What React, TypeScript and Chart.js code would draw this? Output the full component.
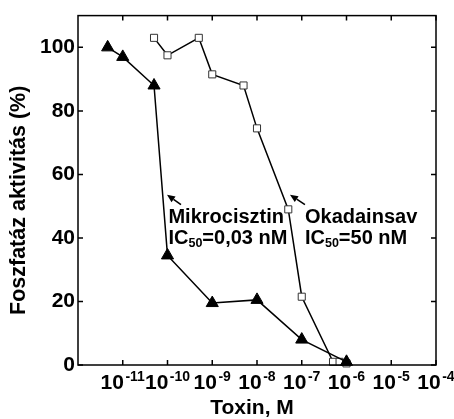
import React, { useEffect, useRef } from "react";
import { Chart, registerables } from "chart.js";

Chart.register(...registerables);

// Mikrocisztin (filled triangles)
const mikroX = [4.6e-12, 1e-11, 5e-11, 1e-10, 1e-9, 1e-8, 1e-7, 1e-6];
const mikroY = [100, 97, 88, 34.5, 19.5, 20.5, 8, 1];

// Okadainsav (open squares)
const okadaX = [5e-11, 1e-10, 5e-10, 1e-9, 5e-9, 1e-8, 5e-8, 1e-7, 5e-7, 7e-7, 1e-6];
const okadaY = [103, 97.5, 103, 91.5, 88, 74.5, 49, 21.5, 1, 1, 0.5];

// axes
const xTicks = [1e-11, 1e-10, 1e-9, 1e-8, 1e-7, 1e-6, 1e-5, 1e-4];
const xTickExps = ["-11", "-10", "-9", "-8", "-7", "-6", "-5", "-4"];
const yTicks = [0, 20, 40, 60, 80, 100];
const xMin = 1e-12;
const xMax = 1e-4;
const yMin = 0;
const yMax = 110;

const xTitle = "Toxin, M";
const yTitle = "Foszfatáz aktivitás (%)";

const FONT = "'Liberation Sans', Arial, sans-serif";

export default function App() {
  const ref = useRef<HTMLCanvasElement | null>(null);

  useEffect(() => {
    if (!ref.current) return;

    const framePlugin = {
      id: "frame",
      afterDraw(chart: any) {
        const ctx = chart.ctx as CanvasRenderingContext2D;
        const { left, right, top, bottom } = chart.chartArea;
        const xs = chart.scales.x;
        const ys = chart.scales.y;
        ctx.save();
        ctx.strokeStyle = "#000";
        ctx.fillStyle = "#000";
        // frame
        ctx.lineWidth = 1.5;
        ctx.strokeRect(left, top, right - left, bottom - top);
        // inward ticks
        ctx.lineWidth = 1.5;
        const tl = 5;
        ctx.beginPath();
        xTicks.forEach((v) => {
          const px = xs.getPixelForValue(v);
          ctx.moveTo(px, bottom);
          ctx.lineTo(px, bottom - tl);
          ctx.moveTo(px, top);
          ctx.lineTo(px, top + tl);
        });
        yTicks.forEach((v) => {
          const py = ys.getPixelForValue(v);
          ctx.moveTo(left, py);
          ctx.lineTo(left + tl, py);
          ctx.moveTo(right, py);
          ctx.lineTo(right - tl, py);
        });
        ctx.stroke();

        // x tick labels: 10^exp
        ctx.textBaseline = "alphabetic";
        ctx.textAlign = "left";
        xTicks.forEach((v, i) => {
          const px = xs.getPixelForValue(v);
          ctx.font = `bold 21px ${FONT}`;
          const w10 = ctx.measureText("10").width;
          ctx.font = `bold 14px ${FONT}`;
          const we = ctx.measureText(xTickExps[i]).width;
          const gap = 1.5;
          const total = w10 + gap + we;
          const x0 = px - total / 2;
          ctx.font = `bold 21px ${FONT}`;
          ctx.fillText("10", x0, bottom + 24);
          ctx.font = `bold 14px ${FONT}`;
          ctx.fillText(xTickExps[i], x0 + w10 + gap, bottom + 16);
        });

        // axis titles
        ctx.font = `bold 21px ${FONT}`;
        ctx.textAlign = "center";
        ctx.fillText(xTitle, (left + right) / 2 - 5, bottom + 49);
        ctx.save();
        ctx.translate(19, (top + bottom) / 2 + 10);
        ctx.rotate(-Math.PI / 2);
        ctx.font = `bold 21.5px ${FONT}`;
        ctx.textBaseline = "middle";
        ctx.fillText(yTitle, 0, 0);
        ctx.restore();

        // annotations
        const drawIC = (x: number, y: number, rest: string) => {
          ctx.textAlign = "left";
          ctx.textBaseline = "alphabetic";
          ctx.font = `bold 20px ${FONT}`;
          ctx.fillText("IC", x, y);
          let cx = x + ctx.measureText("IC").width;
          ctx.font = `bold 12.5px ${FONT}`;
          ctx.fillText("50", cx, y + 3);
          cx += ctx.measureText("50").width;
          ctx.font = `bold 20px ${FONT}`;
          ctx.fillText(rest, cx, y);
        };
        const arrow = (x1: number, y1: number, x2: number, y2: number) => {
          ctx.lineWidth = 1.6;
          const ang = Math.atan2(y2 - y1, x2 - x1);
          const hl = 8;
          const hw = 3.5;
          const bx = x2 - hl * Math.cos(ang);
          const by = y2 - hl * Math.sin(ang);
          ctx.beginPath();
          ctx.moveTo(x1, y1);
          ctx.lineTo(bx, by);
          ctx.stroke();
          ctx.beginPath();
          ctx.moveTo(x2, y2);
          ctx.lineTo(bx + hw * Math.sin(ang), by - hw * Math.cos(ang));
          ctx.lineTo(bx - hw * Math.sin(ang), by + hw * Math.cos(ang));
          ctx.closePath();
          ctx.fill();
        };

        const mx = xs.getPixelForValue(1.05e-10);
        const my = ys.getPixelForValue(44.6);
        ctx.font = `bold 20px ${FONT}`;
        ctx.textAlign = "left";
        ctx.fillText("Mikrocisztin", mx, my);
        drawIC(mx, my + 20.5, "=0,03 nM");
        arrow(
          xs.getPixelForValue(2e-10),
          ys.getPixelForValue(50.5),
          xs.getPixelForValue(0.975e-10),
          ys.getPixelForValue(53.6)
        );

        const ox = xs.getPixelForValue(1.18e-7);
        const oy = ys.getPixelForValue(44.6);
        ctx.font = `bold 20px ${FONT}`;
        ctx.textAlign = "left";
        ctx.fillText("Okadainsav", ox, oy);
        drawIC(ox, oy + 20.5, "=50 nM");
        arrow(
          xs.getPixelForValue(1.18e-7),
          ys.getPixelForValue(50.5),
          xs.getPixelForValue(5.46e-8),
          ys.getPixelForValue(53.6)
        );
        ctx.restore();
      },
    };

    const chart = new Chart(ref.current, {
      type: "line",
      data: {
        datasets: [
          {
            label: "Mikrocisztin",
            data: mikroX.map((x, i) => ({ x, y: mikroY[i] })),
            borderColor: "#000",
            borderWidth: 1.5,
            backgroundColor: "#000",
            pointStyle: "triangle",
            pointRadius: 7,
            pointBorderWidth: 1,
            pointBorderColor: "#000",
            pointBackgroundColor: "#000",
            clip: false,
            order: 0,
          } as any,
          {
            label: "Okadainsav",
            data: okadaX.map((x, i) => ({ x, y: okadaY[i] })),
            borderColor: "#000",
            borderWidth: 1.5,
            backgroundColor: "#fff",
            pointStyle: "rect",
            pointRadius: 5,
            pointBorderWidth: 1,
            pointBorderColor: "#333",
            pointBackgroundColor: "#fff",
            clip: false,
            order: 1,
          } as any,
        ],
      },
      options: {
        animation: false,
        responsive: false,
        devicePixelRatio: 1,
        layout: { padding: { top: 12, right: 18, left: 0, bottom: 0 } },
        plugins: {
          legend: { display: false },
          tooltip: { enabled: false },
        },
        elements: { line: { tension: 0 } },
        scales: {
          x: {
            type: "logarithmic",
            min: xMin,
            max: xMax,
            grid: { display: false, drawTicks: false },
            border: { display: false },
            ticks: { display: false },
            afterBuildTicks: (scale: any) => {
              scale.ticks = xTicks.map((v) => ({ value: v }));
            },
            afterFit: (scale: any) => {
              scale.height = 54;
            },
          },
          y: {
            type: "linear",
            min: yMin,
            max: yMax,
            grid: { display: false, drawTicks: false },
            border: { display: false },
            ticks: {
              color: "#000",
              padding: 3,
              font: { family: FONT, size: 21, weight: "bold" },
              callback: (v: any) => String(v),
            },
            afterBuildTicks: (scale: any) => {
              scale.ticks = yTicks.map((v) => ({ value: v }));
            },
            afterFit: (scale: any) => {
              scale.width = 78;
            },
          },
        },
      } as any,
      plugins: [framePlugin],
    });

    return () => chart.destroy();
  }, []);

  return (
    <div
      style={{
        position: "fixed",
        left: 0,
        top: 0,
        width: 454,
        height: 419,
        background: "#fff",
      }}
    >
      <canvas ref={ref} width={454} height={419} style={{ width: 454, height: 419 }} />
    </div>
  );
}
